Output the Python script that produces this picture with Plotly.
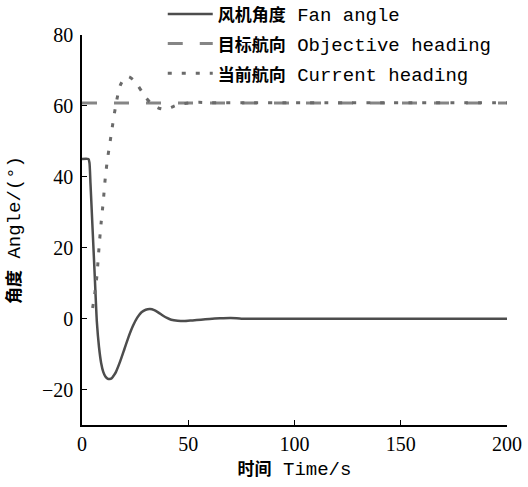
import plotly.graph_objects as go

# Fan angle (deg) vs time (s)
fan_t = [0, 3, 3.5, 4, 5, 6, 7, 8, 9, 10, 11, 12, 13, 14, 15, 16, 18, 20, 22, 24, 26, 28, 30, 32, 34, 36, 38, 40, 42, 45, 48, 52, 56, 60, 65, 70, 75, 80, 120, 160, 200]
fan_v = [45, 45, 44, 38, 25, 12, -1, -8, -12.5, -15, -16.3, -16.9, -17, -16.8, -16, -15, -12, -8.5, -5, -2, 0.3, 1.8, 2.5, 2.7, 2.4, 1.7, 0.9, 0.2, -0.3, -0.6, -0.7, -0.5, -0.3, -0.1, 0.1, 0.2, 0, 0, 0, 0, 0]

# Objective heading (deg)
obj_t = [0, 200]
obj_v = [60.8, 60.8]

# Current heading (deg)
cur_t = [5, 6, 7, 8, 9, 10, 11, 12, 13, 14, 15, 16, 17, 18, 20, 22, 24, 26, 28, 30, 32, 34, 36, 38, 40, 42, 45, 50, 55, 60, 80, 100, 120, 140, 160, 180, 200]
cur_v = [3, 7, 12, 20, 27, 33, 40, 45, 49, 53, 57, 60.5, 63.5, 65.8, 67.8, 68.2, 67.4, 66, 64.2, 62.4, 61, 60, 59.4, 59.1, 59.2, 59.6, 60.3, 60.8, 61, 60.9, 60.9, 60.9, 60.9, 60.9, 60.9, 60.9, 60.9]

x_ticks = [0, 50, 100, 150, 200]
y_ticks = [-20, 0, 20, 40, 60, 80]
y_tick_text = ["\u221220", "0", "20", "40", "60", "80"]

label_font = "Liberation Mono, Noto Sans CJK SC, monospace"
cjk = '<span style="font-family:Noto Sans CJK SC;font-size:17px;font-weight:bold">{}</span>'

fig = go.Figure()
fig.add_trace(go.Scatter(x=fan_t, y=fan_v, mode="lines", legendgroup="a",
                         name=cjk.format("风机角度") + " Fan angle",
                         line=dict(color="#4d4d4d", width=2.5, shape="spline", smoothing=0.6)))
fig.add_trace(go.Scatter(x=obj_t, y=obj_v, mode="lines", legendgroup="b",
                         name=cjk.format("目标航向") + " Objective heading",
                         line=dict(color="#858585", width=3, dash="15px,17px")))
fig.add_trace(go.Scatter(x=cur_t, y=cur_v, mode="lines", legendgroup="c",
                         name=cjk.format("当前航向") + " Current heading",
                         line=dict(color="#6a6a6a", width=3, dash="4px,10px", shape="spline", smoothing=0.6)))

fig.update_layout(
    width=528, height=487,
    margin=dict(l=82, r=21, t=35, b=62, autoexpand=False),
    paper_bgcolor="white", plot_bgcolor="white",
    showlegend=True,
    legend=dict(x=0.19, y=1.1025, xanchor="left", yanchor="top",
                bgcolor="rgba(0,0,0,0)", font=dict(family=label_font, size=19, color="black"),
                traceorder="grouped", tracegroupgap=2, itemwidth=45),
    font=dict(family=label_font, size=19, color="black"),
)
fig.update_xaxes(range=[0, 200], tickvals=x_ticks, ticks="inside", ticklen=5, tickwidth=1.3,
                 tickcolor="black", showline=True, linecolor="black", linewidth=1.5,
                 showgrid=False, zeroline=False, automargin=False,
                 tickfont=dict(family="Liberation Serif", size=20, color="black"),
                 title=dict(text=cjk.format("时间") + " Time/s", standoff=4,
                            font=dict(family=label_font, size=19, color="black")))
fig.update_yaxes(range=[-30, 80], tickvals=y_ticks, ticktext=y_tick_text, ticks="inside", ticklen=5,
                 tickwidth=1.3, tickcolor="black", showline=True, linecolor="black", linewidth=1.5,
                 showgrid=False, zeroline=False, automargin=False, ticklabelstandoff=3,
                 tickfont=dict(family="Liberation Serif", size=20, color="black"),
                 title=dict(text=cjk.format("角度") + " Angle/(°)", standoff=26,
                            font=dict(family=label_font, size=19, color="black")))

fig.write_html("out.html", config={"displayModeBar": False},
               post_script="document.body.style.margin='0';")
